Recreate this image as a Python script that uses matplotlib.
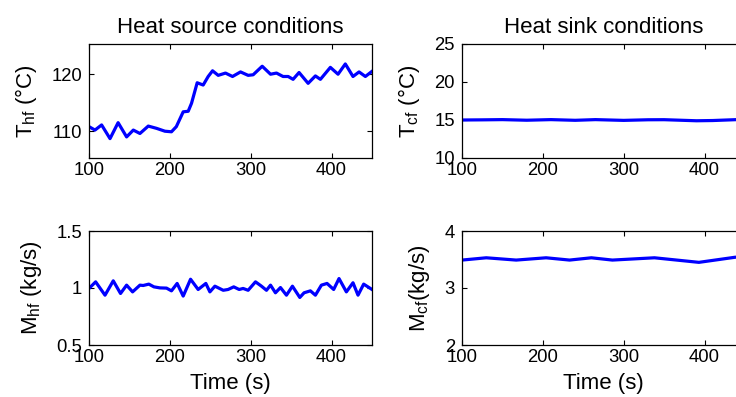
import matplotlib
matplotlib.use("Agg")
import matplotlib.pyplot as plt

plt.rcParams.update({
    "font.family": ["Liberation Sans", "DejaVu Sans"],
    "mathtext.fontset": "custom",
    "mathtext.rm": "Liberation Sans",
    "mathtext.it": "Liberation Sans:italic",
    "font.size": 13,
    "xtick.direction": "in", "ytick.direction": "in",
    "xtick.top": True, "ytick.right": True,
    "xtick.major.size": 3.5, "ytick.major.size": 3.5,
    "axes.linewidth": 0.9,
})

# heat source temperature (C)
t_hf = [100, 107.4, 115.6, 126, 136, 146.5, 154.8, 163, 173.3, 183.6, 193.9, 202,
        208, 216.5, 222.7, 226.8, 233.8, 241.2, 247.4, 252.8, 259.8, 268.8, 277.5,
        287.4, 296.8, 303, 314.2, 324.5, 331.9, 340, 346.3, 352.4, 359.8, 371, 380,
        386.2, 398.5, 408, 417, 426.5, 434, 441.8, 450]
T_hf = [110.8, 110.2, 111.1, 108.7, 111.5, 109.0, 110.2, 109.6, 110.9, 110.5, 110.0, 109.9,
        110.8, 113.4, 113.5, 114.9, 118.5, 118.1, 119.6, 120.6, 119.8, 120.2, 119.6,
        120.4, 119.8, 119.9, 121.4, 120.0, 120.2, 119.6, 119.6, 119.1, 120.3, 118.4, 119.7,
        119.1, 121.2, 120.0, 121.8, 119.6, 120.4, 119.6, 120.5]

# heat source mass flow (kg/s)
t_mhf = [100, 108.2, 119.8, 130, 139, 146.5, 153.9, 163, 167, 174, 180.3, 187.7, 195.9,
         202, 209, 216.5, 225.6, 235, 244.5, 249.5, 255.7, 266, 272, 279, 285.7, 290.6,
         296.8, 305.9, 313.3, 319.5, 324.5, 330.6, 336.8, 344.2, 351.6, 360.7, 366,
         373.8, 380, 387.4, 394.4, 402.6, 409.2, 418.3, 426.5, 432.7, 439.7, 450]
M_hf = [0.996, 1.054, 0.937, 1.063, 0.952, 1.025, 0.966, 1.025, 1.022, 1.034, 1.01, 1.001, 0.999,
        0.975, 1.04, 0.929, 1.077, 0.987, 1.04, 0.966, 1.016, 0.98, 0.987, 1.01, 0.987, 0.996,
        0.98, 1.054, 1.016, 0.98, 1.025, 0.958, 1.004, 0.937, 1.016, 0.917, 0.958,
        0.975, 0.937, 1.025, 1.04, 0.987, 1.083, 0.966, 1.046, 0.937, 1.034, 0.987]

# heat sink temperature (C)
t_cf = [100, 125, 150, 180, 210, 240, 265, 300, 330, 350, 390, 410, 440, 450]
T_cf = [15.0, 15.02, 15.05, 14.97, 15.05, 14.96, 15.05, 14.95, 15.03, 15.04, 14.9, 14.93, 15.05, 15.05]

# heat sink mass flow (kg/s)
t_mcf = [100, 130, 167, 204, 233, 260, 286, 338, 393, 438, 450]
M_cf = [3.49, 3.53, 3.49, 3.53, 3.49, 3.53, 3.49, 3.53, 3.45, 3.54, 3.54]

W, H = 736, 397
fig = plt.figure(figsize=(W / 100, H / 100), dpi=100)

def box(x0, y0, x1, y1):
    return fig.add_axes([x0 / W, 1 - y1 / H, (x1 - x0) / W, (y1 - y0) / H])

ax1 = box(89, 44, 372, 158)
ax2 = box(462, 44, 745, 158)
ax3 = box(89, 231, 372, 345)
ax4 = box(462, 231, 745, 345)

lw = 2.3
col = "#0000ff"
lab = 16
ax1.plot(t_hf, T_hf, color=col, lw=lw)
ax1.set_ylim(105.3, 125.3)
ax1.set_yticks([110, 120])
ax1.set_ylabel(r"T$_{\rm hf}$ (°C)", fontsize=lab)
ax1.set_title("Heat source conditions", fontsize=lab, pad=8)

ax2.plot(t_cf, T_cf, color=col, lw=lw)
ax2.set_ylim(10, 25)
ax2.set_yticks([10, 15, 20, 25])
ax2.set_ylabel(r"T$_{\rm cf}$ (°C)", fontsize=lab)
ax2.set_title("Heat sink conditions", fontsize=lab, pad=8)

ax3.plot(t_mhf, M_hf, color=col, lw=lw)
ax3.set_ylim(0.5, 1.5)
ax3.set_yticks([0.5, 1, 1.5])
ax3.set_yticklabels(["0.5", "1", "1.5"])
ax3.set_ylabel(r"M$_{\rm hf}$ (kg/s)", fontsize=lab)
ax3.set_xlabel("Time (s)", fontsize=lab)

ax4.plot(t_mcf, M_cf, color=col, lw=lw)
ax4.set_ylim(2, 4)
ax4.set_yticks([2, 3, 4])
ax4.set_ylabel(r"M$_{\rm cf}$(kg/s)", fontsize=lab)
ax4.set_xlabel("Time (s)", fontsize=lab)

for ax in (ax1, ax2, ax3, ax4):
    ax.set_xlim(100, 450)
    ax.set_xticks([100, 200, 300, 400])
    ax.tick_params(labelsize=13.3)
    ax.tick_params(axis="y", pad=5)
    ax.tick_params(axis="x", pad=3)
    ax.xaxis.labelpad = 5
    ax.yaxis.labelpad = 9

fig.savefig("out.png", dpi=100)
